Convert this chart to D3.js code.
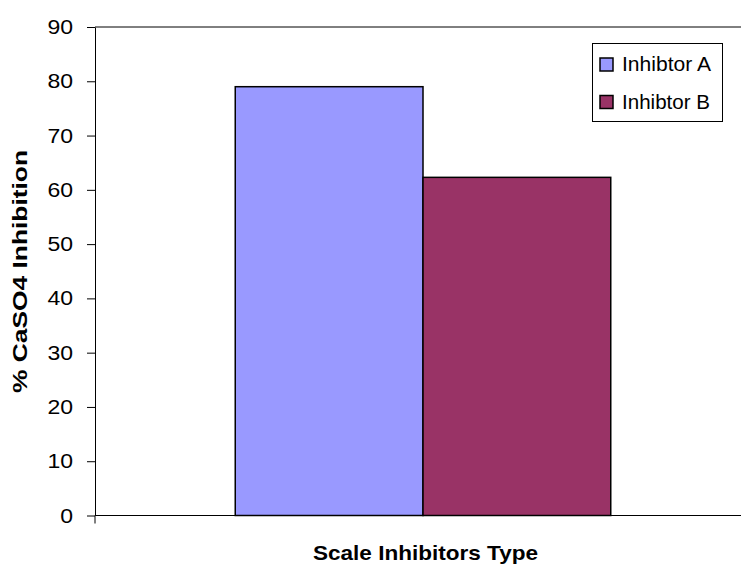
<!DOCTYPE html>
<html>
<head>
<meta charset="utf-8">
<script src="https://cdn.jsdelivr.net/npm/d3@7"></script>
<style>
  html, body { margin: 0; padding: 0; background: #fff; }
  svg { display: block; font-family: "Liberation Sans", Arial, sans-serif; }
</style>
</head>
<body>
<svg id="chart" width="741" height="565"></svg>
<script>
// Chart data
const categories = [""];
const seriesNames = ["Inhibtor A", "Inhibtor B"];
const seriesValues = [79, 62.3];
const seriesColors = ["#9999FF", "#993366"];
const yTicks = [0, 10, 20, 30, 40, 50, 60, 70, 80, 90];

const svg = d3.select("#chart");
const plot = { left: 95, right: 751, top: 27, bottom: 515.5 };

const y = d3.scaleLinear().domain([0, 90]).range([plot.bottom, plot.top]);
const x0 = d3.scaleBand().domain(categories).range([plot.left, plot.right])
  .paddingInner(0).paddingOuter(0.3735);
const x1 = d3.scaleBand().domain(seriesNames).range([0, x0.bandwidth()]).padding(0);

// Top frame line
svg.append("line")
  .attr("x1", plot.left).attr("x2", plot.right)
  .attr("y1", plot.top).attr("y2", plot.top)
  .attr("stroke", "#000").attr("stroke-width", 1);

// Bars
const group = svg.append("g").selectAll("g").data(categories).join("g")
  .attr("transform", d => `translate(${x0(d)},0)`);
group.selectAll("rect")
  .data(seriesNames.map((s, i) => ({ s, v: seriesValues[i], c: seriesColors[i] })))
  .join("rect")
  .attr("x", d => x1(d.s))
  .attr("y", d => y(d.v))
  .attr("width", x1.bandwidth())
  .attr("height", d => y(0) - y(d.v))
  .attr("fill", d => d.c)
  .attr("stroke", "#000")
  .attr("stroke-width", 1.5);

// Y axis
const yAxis = svg.append("g")
  .attr("transform", `translate(${plot.left},0)`)
  .call(d3.axisLeft(y).tickValues(yTicks).tickSize(8).tickPadding(14).tickSizeOuter(0));
yAxis.select(".domain").attr("stroke", "#000");
yAxis.selectAll(".tick line").attr("stroke", "#000");
yAxis.selectAll(".tick text")
  .attr("font-size", 20.5)
  .attr("fill", "#000")
  .attr("font-family", "Liberation Sans, Arial, sans-serif")
  .attr("textLength", d => String(d).length * 12.8)
  .attr("lengthAdjust", "spacingAndGlyphs");

// X axis (category boundaries)
const xAxis = svg.append("g")
  .attr("transform", `translate(0,${plot.bottom})`);
xAxis.append("line")
  .attr("x1", plot.left).attr("x2", plot.right)
  .attr("stroke", "#000").attr("stroke-width", 1);
xAxis.append("line")
  .attr("x1", plot.left).attr("x2", plot.left)
  .attr("y1", 0).attr("y2", 8)
  .attr("stroke", "#000").attr("stroke-width", 1);

// Axis titles
svg.append("text")
  .attr("x", 425.5).attr("y", 560)
  .attr("text-anchor", "middle")
  .attr("font-size", 21).attr("font-weight", "bold")
  .attr("textLength", 225).attr("lengthAdjust", "spacingAndGlyphs")
  .text("Scale Inhibitors Type");

svg.append("text")
  .attr("transform", "translate(26.5,271.5) rotate(-90)")
  .attr("text-anchor", "middle")
  .attr("font-size", 21).attr("font-weight", "bold")
  .attr("textLength", 243).attr("lengthAdjust", "spacingAndGlyphs")
  .text("% CaSO4 Inhibition");

// Legend
const legend = svg.append("g");
legend.append("rect")
  .attr("x", 592.5).attr("y", 43.5).attr("width", 130).attr("height", 78)
  .attr("fill", "#fff").attr("stroke", "#000").attr("stroke-width", 1);
const items = legend.selectAll("g.item")
  .data(seriesNames.map((s, i) => ({ s, c: seriesColors[i] })))
  .join("g").attr("class", "item")
  .attr("transform", (d, i) => `translate(0,${i * 37.5})`);
items.append("rect")
  .attr("x", 600).attr("y", 58).attr("width", 13).attr("height", 13)
  .attr("fill", d => d.c).attr("stroke", "#000").attr("stroke-width", 1.5);
items.append("text")
  .attr("x", 622).attr("y", 71)
  .attr("font-size", 21)
  .attr("textLength", d => d.s === "Inhibtor A" ? 89 : 88)
  .attr("lengthAdjust", "spacingAndGlyphs")
  .text(d => d.s);
</script>
</body>
</html>
